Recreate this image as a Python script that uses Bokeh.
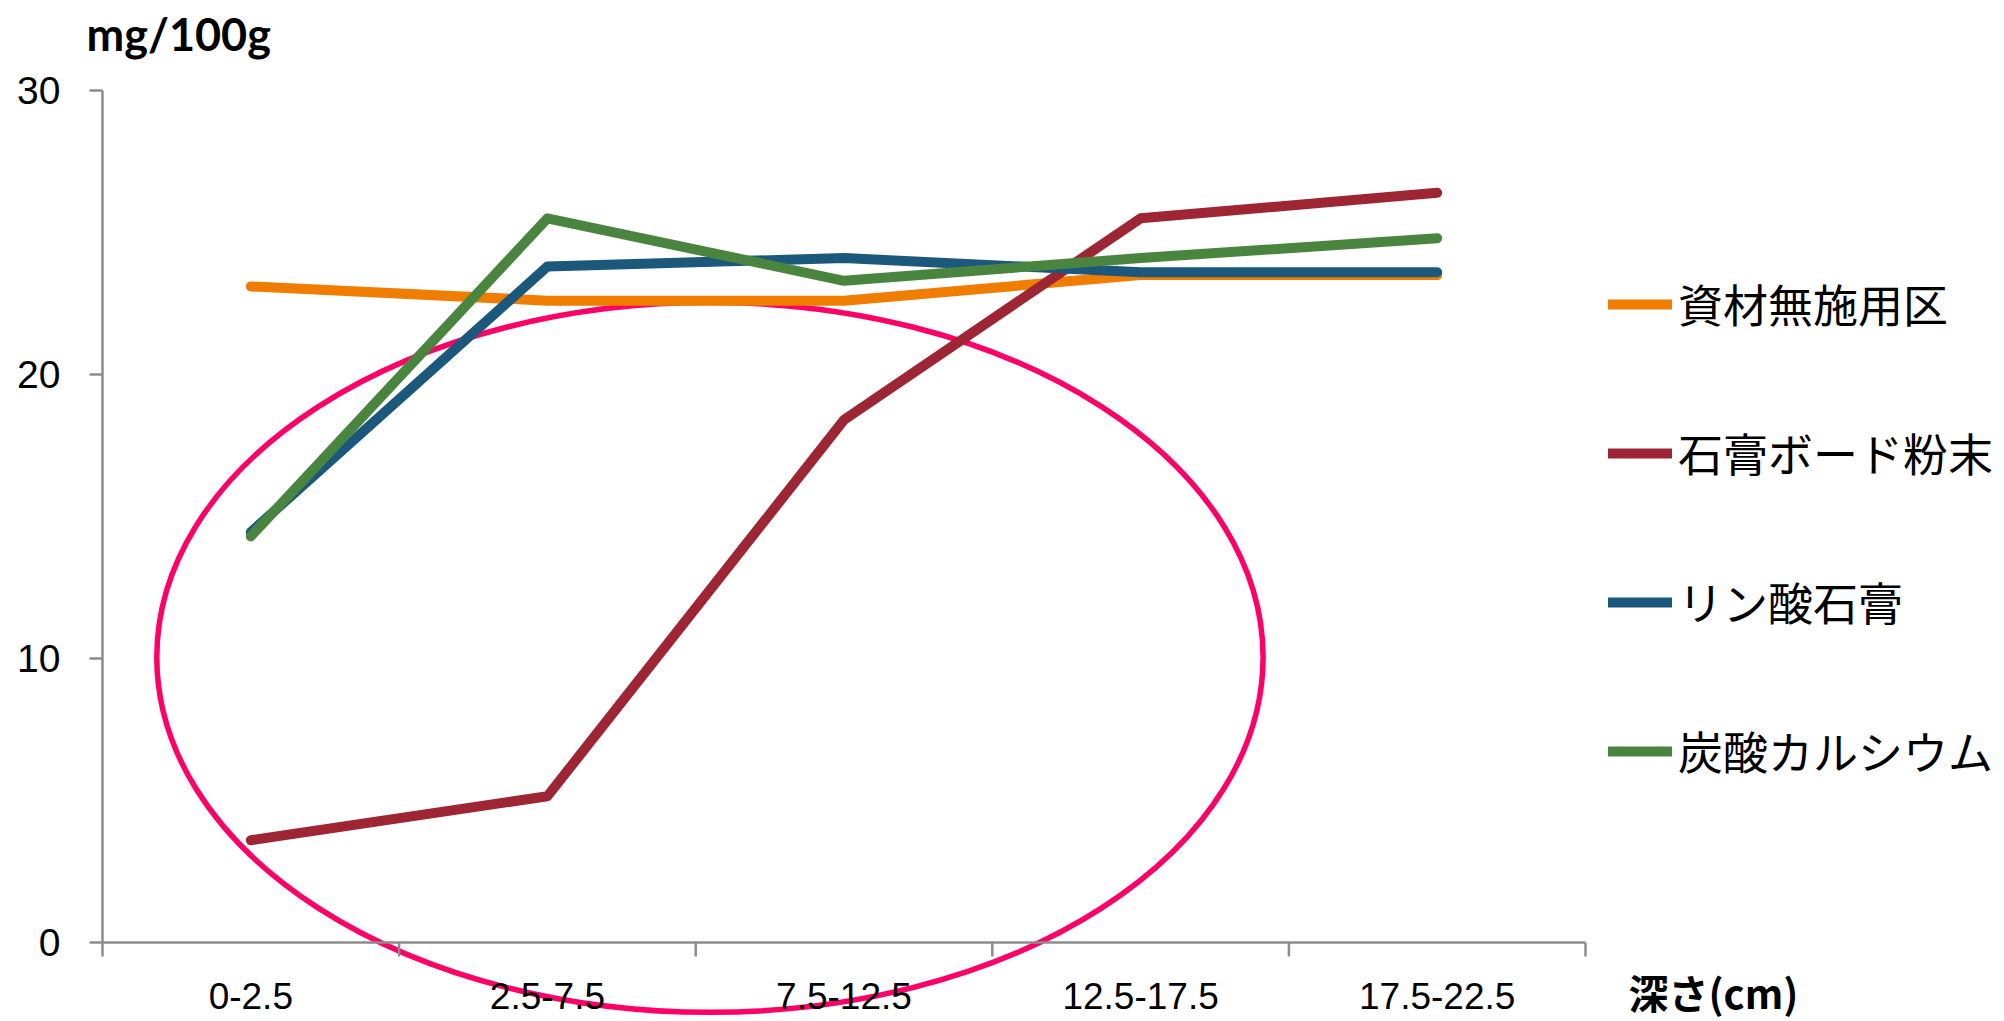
from bokeh.plotting import figure
from bokeh.models import (ColumnDataSource, Range1d, Legend, LegendItem, Label)
from bokeh.core.properties import value
from bokeh.embed import file_html
from bokeh.resources import INLINE

# Depth classes (cm) and soil values (mg/100g)
categories = ["0-2.5", "2.5-7.5", "7.5-12.5", "12.5-17.5", "17.5-22.5"]
no_material = [23.1, 22.6, 22.6, 23.5, 23.5]      # 資材無施用区
gypsum_board = [3.6, 5.15, 18.4, 25.5, 26.4]      # 石膏ボード粉末
phospho_gypsum = [14.45, 23.8, 24.1, 23.6, 23.6]  # リン酸石膏
calcium_carb = [14.3, 25.5, 23.3, 24.1, 24.8]     # 炭酸カルシウム

series_names = ["資材無施用区", "石膏ボード粉末", "リン酸石膏", "炭酸カルシウム"]
series_values = [no_material, gypsum_board, phospho_gypsum, calcium_carb]
series_colors = ["#F07C00", "#9E2533", "#1B587C", "#4A8540"]

y_ticks = [0, 10, 20, 30]
y_max = 30
x_title = "深さ(cm)"
y_title = "mg/100g"

# highlighted region: centre (category index, value), width, height
ring_center = (1.548, 10.04)
ring_size = (3.73, 25.0)

W, H = 2004, 1021
AXIS_X_PX = 102   # pixel column of the value axis
X_PX = 296.6      # pixels per category
Y_PX = 28.4       # pixels per unit
Y0_PX = 942       # pixel row of value 0

n = len(categories)
xs = list(range(n))
bounds = [i - 0.5 for i in range(n + 1)]

# the plotting frame fills the whole canvas; axes are drawn inside it
x_start = bounds[0] - AXIS_X_PX / X_PX
x_end = x_start + W / X_PX
y_start = -(H - Y0_PX) / Y_PX
y_end = Y0_PX / Y_PX

p = figure(width=W, height=H, output_backend="svg", toolbar_location=None,
           x_range=Range1d(x_start, x_end), y_range=Range1d(y_start, y_end),
           x_axis_location=None, y_axis_location=None,
           min_border_left=0, min_border_right=0, min_border_top=0,
           min_border_bottom=0)
p.outline_line_color = None
p.xgrid.visible = False
p.ygrid.visible = False
p.background_fill_color = "white"
p.border_fill_color = "white"

AXIS_GREY = "#8C8C8C"
AXIS_W = 2.5

# highlight ring, drawn beneath the series
p.ellipse(x=[ring_center[0]], y=[ring_center[1]], width=[ring_size[0]],
          height=[ring_size[1]], fill_color=None, line_color="#FF0066",
          line_width=5.5)

# value axis
y_tick_len = 13 / X_PX
p.segment(x0=[bounds[0]], y0=[0], x1=[bounds[0]], y1=[y_max],
          line_color=AXIS_GREY, line_width=AXIS_W)
p.segment(x0=[bounds[0]] * len(y_ticks), y0=y_ticks,
          x1=[bounds[0] - y_tick_len] * len(y_ticks), y1=y_ticks,
          line_color=AXIS_GREY, line_width=AXIS_W)
ytick_src = ColumnDataSource(dict(x=[bounds[0]] * len(y_ticks), y=y_ticks,
                                  text=[str(t) for t in y_ticks]))
p.text(x="x", y="y", text="text", source=ytick_src, x_offset=-42,
       text_align="right", text_baseline="middle",
       text_font=value("Liberation Sans"), text_font_size="39px",
       text_color="black")

# category axis along value 0
x_tick_len = 14 / Y_PX
p.segment(x0=[bounds[0]], y0=[0], x1=[bounds[-1]], y1=[0],
          line_color=AXIS_GREY, line_width=AXIS_W)
p.segment(x0=bounds, y0=[0] * len(bounds), x1=bounds,
          y1=[-x_tick_len] * len(bounds), line_color=AXIS_GREY,
          line_width=AXIS_W)
cat_src = ColumnDataSource(dict(x=xs, y=[0] * n, text=categories))
p.text(x="x", y="y", text="text", source=cat_src, y_offset=53,
       text_align="center", text_baseline="middle",
       text_font=value("Liberation Sans"), text_font_size="37px",
       text_color="black")

p.add_layout(Label(x=bounds[-1], y=0, x_offset=43, y_offset=-49, text=x_title,
                   text_font="Noto Sans CJK JP", text_font_style="bold",
                   text_font_size="40px", text_baseline="middle",
                   text_color="black"))
p.add_layout(Label(x=bounds[0], y=y_max, x_offset=-16, y_offset=57,
                   text=y_title, text_font="Lato", text_font_style="bold",
                   text_font_size="45px", text_baseline="alphabetic",
                   text_color="black"))

items = []
for name, vals, col in zip(series_names, series_values, series_colors):
    r = p.line(xs, vals, line_color=col, line_width=10, line_cap="round",
               line_join="round")
    items.append(LegendItem(label=name, renderers=[r]))

legend = Legend(items=items, location=(1608, 238), orientation="vertical",
                padding=0, margin=0, spacing=84, glyph_width=64,
                glyph_height=60, label_height=60, label_standoff=6,
                label_text_font="Noto Sans CJK JP",
                label_text_font_size="45px", label_text_color="black",
                border_line_color=None, background_fill_alpha=0)
p.add_layout(legend)

open("out.html", "w").write(file_html(p, INLINE))
